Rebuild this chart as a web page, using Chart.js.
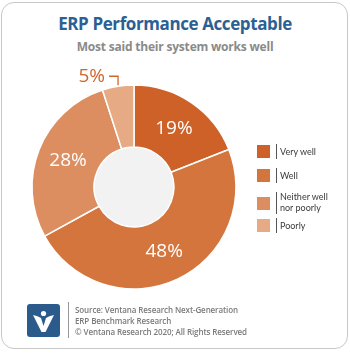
<!DOCTYPE html>
<html>
<head>
<meta charset="utf-8">
<script src="https://cdn.jsdelivr.net/npm/chart.js@4"></script>
<style>
  body { margin: 0; width: 350px; height: 353px; background: #fff; overflow: hidden; font-family: Lato, "Open Sans", sans-serif; }
  #frame { position: absolute; left: 1px; top: 2px; width: 345px; height: 345px; border: 1.5px solid #c8c8c8; border-radius: 13px; }
  #title { position: absolute; left: 0; width: 350px; top: 12px; text-align: center; font: bold 17px "Open Sans", sans-serif; color: #2c5f93; letter-spacing: -0.4px; }
  #sub { position: absolute; left: 0; width: 350px; top: 38px; text-align: center; font: bold 12px "Open Sans", sans-serif; color: #8a8a8a; letter-spacing: -0.2px; }
  #c { position: absolute; left: 0; top: 0; }
  .lg { position: absolute; left: 257px; font: 9px Lato, sans-serif; color: #3a3a3a; line-height: 11px; }
  .lg .sw { position: absolute; left: 0; width: 13px; height: 13px; }
  .lg .bar { position: absolute; left: 19px; width: 1px; background: #555; }
  .lg .tx { position: absolute; left: 23px; white-space: nowrap; }
  #logo { position: absolute; left: 27px; top: 304px; }
  #vline { position: absolute; left: 68px; top: 302px; width: 1px; height: 36px; background: #999; }
  #foot { position: absolute; left: 75px; top: 305px; font: 600 8px "Open Sans", sans-serif; color: #7a7a7a; line-height: 10.8px; letter-spacing: -0.1px; }
</style>
</head>
<body>
<div id="frame"></div>
<div id="title">ERP Performance Acceptable</div>
<div id="sub">Most said their system works well</div>
<canvas id="c" width="350" height="353"></canvas>
<div id="legend"></div>
<svg id="logo" width="33" height="33" viewBox="0 0 33 33">
  <rect x="0" y="0" width="33" height="33" rx="3" fill="#2b5b8b"/>
  <path d="M6 11 Q11 12 14 14 L16.5 22 L19 14 Q22 12 27 11 L18.5 28 L14.5 28 Z" fill="#fff"/>
  <circle cx="16.5" cy="9.5" r="2.6" fill="#fff"/>
</svg>
<div id="vline"></div>
<div id="foot">Source: Ventana Research Next-Generation<br>ERP Benchmark Research<br>© Ventana Research 2020; All Rights Reserved</div>
<script>
const categories = ['Very well', 'Well', 'Neither well\nnor poorly', 'Poorly'];
const values = [19, 48, 28, 5];
const colors = ['#cd6128', '#d4753e', '#dc8e60', '#e6aa84'];
const pctLabels = ['19%', '48%', '28%', '5%'];

// legend in html
const legendTops = [145, 169, 191, 219];
const legend = document.getElementById('legend');
categories.forEach((c, i) => {
    let lines = c.split('\n');
    let two = lines.length > 1;
    let el = document.createElement('div');
    el.className = 'lg';
    el.style.top = legendTops[i] + 'px';
    el.innerHTML = '<div class="sw" style="background:' + colors[i] + ';top:' + (two ? 6 : 0) + 'px"></div>' +
        '<div class="bar" style="top:' + (two ? 1 : -1) + 'px;height:' + (two ? 22 : 15) + 'px"></div>' +
        '<div class="tx" style="top:' + (two ? 0 : 1) + 'px">' + lines.join('<br>') + '</div>';
    legend.appendChild(el);
});

const labelPlugin = {
    id: 'pctLabels',
    beforeDatasetsDraw(chart) {
        let arc = chart.getDatasetMeta(0).data[0];
        let ctx = chart.ctx;
        ctx.save();
        ctx.fillStyle = '#f2f2f2';
        ctx.beginPath();
        ctx.arc(arc.x, arc.y, arc.innerRadius, 0, Math.PI * 2);
        ctx.fill();
        ctx.restore();
    },
    afterDatasetsDraw(chart) {
        let ctx = chart.ctx;
        let arcs = chart.getDatasetMeta(0).data;
        ctx.save();
        ctx.font = '19px "Open Sans", sans-serif';
        ctx.textAlign = 'center';
        ctx.textBaseline = 'middle';
        arcs.forEach((a, i) => {
            if (i === 3) {
                let mid = (a.startAngle + a.endAngle) / 2;
                let px = a.x + Math.cos(mid) * a.outerRadius;
                let py = a.y + Math.sin(mid) * a.outerRadius;
                ctx.strokeStyle = '#d0652b';
                ctx.lineWidth = 1.3;
                ctx.beginPath();
                ctx.moveTo(px, py - 1);
                ctx.lineTo(px, py - 10);
                ctx.lineTo(px - 9, py - 10);
                ctx.stroke();
                ctx.fillStyle = '#d0652b';
                ctx.textAlign = 'right';
                ctx.fillText(pctLabels[i], px - 13, py - 10);
            } else {
                let p = a.tooltipPosition();
                ctx.fillStyle = '#ffffff';
                ctx.fillText(pctLabels[i], p.x, p.y);
            }
        });
        ctx.restore();
    }
};

let config = {
    type: 'doughnut',
    data: {
        labels: categories,
        datasets: [{
            data: values,
            backgroundColor: colors,
            borderColor: '#ffffff',
            borderWidth: 1.5,
            radius: 102,
            cutout: 40
        }]
    },
    options: {
        responsive: false,
        animation: false,
        layout: { padding: { left: 31, right: 113, top: 84, bottom: 63 } },
        plugins: {
            legend: { display: false },
            tooltip: { enabled: false }
        }
    },
    plugins: [labelPlugin]
};
let ctx = document.getElementById('c').getContext('2d');
var myChart = new Chart(ctx, config);
</script>
</body>
</html>
